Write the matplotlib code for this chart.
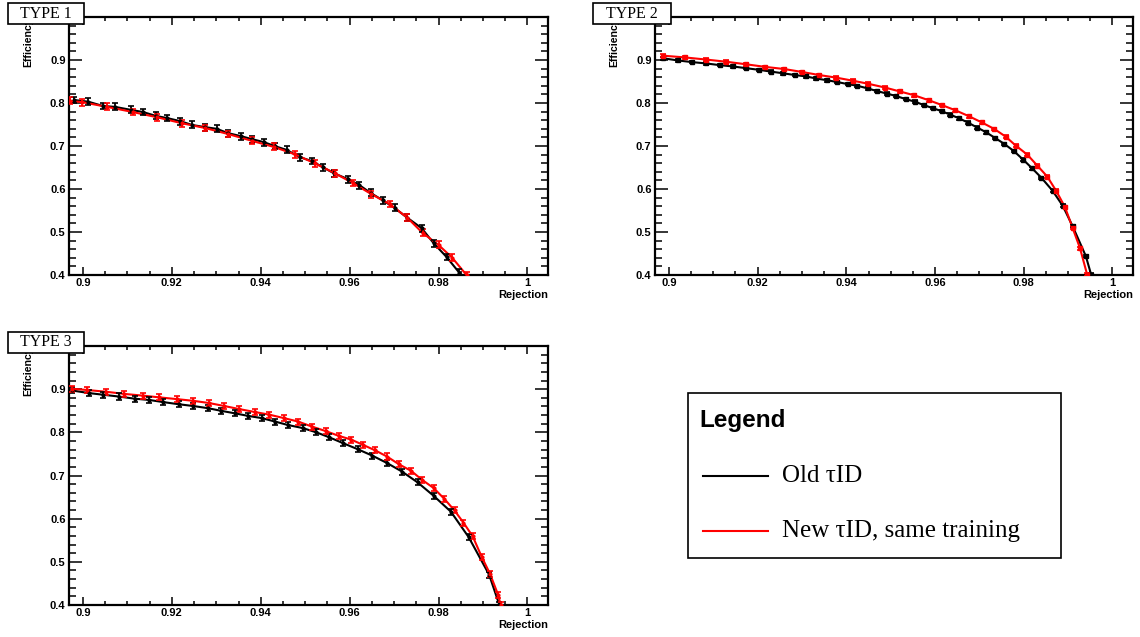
import matplotlib
matplotlib.use("Agg")
import matplotlib.pyplot as plt
from matplotlib.patches import Rectangle
from matplotlib.lines import Line2D
from matplotlib.ticker import MultipleLocator, FixedLocator

# ---------------- data ----------------
panel_titles = ["TYPE 1", "TYPE 2", "TYPE 3"]
legend_labels = ["Old \u03c4ID", "New \u03c4ID, same training"]
x_label = "Rejection"
y_label = "Efficiency"
x_ticks = [0.9, 0.92, 0.94, 0.96, 0.98, 1.0]
x_tick_labels = ["0.9", "0.92", "0.94", "0.96", "0.98", "1"]
y_ticks = [0.4, 0.5, 0.6, 0.7, 0.8, 0.9]
y_tick_labels = ["0.4", "0.5", "0.6", "0.7", "0.8", "0.9"]

t1_old_x = [0.8980, 0.9012, 0.9045, 0.9072, 0.9108, 0.9135, 0.9164, 0.9189, 0.9218,
            0.9245, 0.9274, 0.9301, 0.9326, 0.9355, 0.9380, 0.9407, 0.9431, 0.9458,
            0.9488, 0.9515, 0.9539, 0.9564, 0.9596, 0.9622, 0.9647, 0.9674, 0.9701,
            0.9730, 0.9762, 0.9789, 0.9818, 0.9847, 0.9855]
t1_old_y = [0.807, 0.803, 0.793, 0.791, 0.784, 0.779, 0.770, 0.765, 0.758,
            0.749, 0.744, 0.740, 0.730, 0.723, 0.716, 0.709, 0.700, 0.691,
            0.674, 0.665, 0.651, 0.637, 0.623, 0.609, 0.591, 0.574, 0.556,
            0.533, 0.509, 0.474, 0.442, 0.405, 0.390]
t1_new_x = [0.8970, 0.8998, 0.9054, 0.9112, 0.9166, 0.9222, 0.9274, 0.9326, 0.9380,
            0.9429, 0.9476, 0.9521, 0.9566, 0.9607, 0.9649, 0.9690, 0.9730, 0.9764,
            0.9800, 0.9831, 0.9863]
t1_new_y = [0.805, 0.802, 0.791, 0.779, 0.767, 0.753, 0.742, 0.728, 0.712,
            0.698, 0.681, 0.660, 0.637, 0.614, 0.588, 0.565, 0.533, 0.498,
            0.470, 0.440, 0.400]
t1_err = 0.008

t2_old_x = [0.8987, 0.9020, 0.9053, 0.9084, 0.9115, 0.9144, 0.9174, 0.9204, 0.9230,
            0.9258, 0.9284, 0.9308, 0.9332, 0.9356, 0.9378, 0.9403, 0.9425, 0.9448,
            0.9468, 0.9491, 0.9513, 0.9534, 0.9555, 0.9575, 0.9595, 0.9615, 0.9634,
            0.9655, 0.9675, 0.9695, 0.9715, 0.9735, 0.9756, 0.9778, 0.9799, 0.9819,
            0.9840, 0.9865, 0.9888, 0.9910, 0.9940, 0.9952]
t2_old_y = [0.904, 0.899, 0.895, 0.892, 0.888, 0.885, 0.881, 0.877, 0.873,
            0.869, 0.865, 0.862, 0.857, 0.853, 0.849, 0.844, 0.840, 0.834,
            0.828, 0.822, 0.816, 0.809, 0.803, 0.795, 0.788, 0.781, 0.773,
            0.764, 0.754, 0.743, 0.732, 0.719, 0.705, 0.688, 0.668, 0.648,
            0.626, 0.596, 0.561, 0.514, 0.444, 0.401]
t2_new_x = [0.8987, 0.9036, 0.9084, 0.9129, 0.9174, 0.9217, 0.9260, 0.9301, 0.9339,
            0.9377, 0.9414, 0.9448, 0.9487, 0.9520, 0.9553, 0.9587, 0.9616, 0.9646,
            0.9677, 0.9705, 0.9733, 0.9759, 0.9782, 0.9808, 0.9831, 0.9853, 0.9873,
            0.9893, 0.9910, 0.9927, 0.9943]
t2_new_y = [0.910, 0.906, 0.901, 0.896, 0.890, 0.884, 0.879, 0.872, 0.865,
            0.859, 0.852, 0.845, 0.836, 0.827, 0.818, 0.806, 0.795, 0.783,
            0.769, 0.755, 0.740, 0.722, 0.701, 0.680, 0.654, 0.629, 0.596,
            0.558, 0.510, 0.462, 0.401]
t2_err = 0.003

t3_old_x = [0.8975, 0.9013, 0.9046, 0.9080, 0.9116, 0.9149, 0.9181, 0.9216, 0.9248,
            0.9281, 0.9310, 0.9342, 0.9372, 0.9402, 0.9432, 0.9461, 0.9494, 0.9525,
            0.9553, 0.9585, 0.9618, 0.9651, 0.9684, 0.9718, 0.9753, 0.9789, 0.9828,
            0.9868, 0.9914, 0.9937]
t3_old_y = [0.897, 0.891, 0.887, 0.883, 0.878, 0.875, 0.870, 0.865, 0.861,
            0.856, 0.850, 0.844, 0.838, 0.833, 0.825, 0.817, 0.810, 0.800,
            0.789, 0.775, 0.761, 0.746, 0.729, 0.709, 0.684, 0.653, 0.616,
            0.557, 0.470, 0.400]
t3_new_x = [0.8975, 0.9010, 0.9052, 0.9093, 0.9135, 0.9172, 0.9211, 0.9248, 0.9283,
            0.9318, 0.9351, 0.9387, 0.9419, 0.9452, 0.9484, 0.9516, 0.9546, 0.9575,
            0.9604, 0.9630, 0.9658, 0.9684, 0.9711, 0.9738, 0.9763, 0.9789, 0.9813,
            0.9836, 0.9856, 0.9877, 0.9897, 0.9916, 0.9934, 0.9940]
t3_new_y = [0.901, 0.898, 0.894, 0.889, 0.885, 0.881, 0.877, 0.873, 0.868,
            0.861, 0.854, 0.847, 0.841, 0.833, 0.825, 0.813, 0.803, 0.792,
            0.783, 0.771, 0.758, 0.744, 0.726, 0.711, 0.690, 0.671, 0.646,
            0.619, 0.591, 0.559, 0.512, 0.472, 0.424, 0.400]
t3_err = 0.007

# ---------------- layout ----------------
W, H = 1140, 637
fig = plt.figure(figsize=(W / 100, H / 100), dpi=100)
fig.patch.set_facecolor("white")


def px_axes(left, top, right, bottom):
    return fig.add_axes([left / W, 1 - bottom / H, (right - left) / W, (bottom - top) / H])


SANS = ["Liberation Sans", "DejaVu Sans"]
SERIF = ["Liberation Serif", "DejaVu Serif"]

axes_px = [(69, 17, 548, 275), (655, 17, 1133, 275), (69, 346, 548, 605)]
box_px = [(8, 3, 84, 24), (593, 3, 671, 24), (8, 332, 84, 353)]

series = [
    (t1_old_x, t1_old_y, t1_new_x, t1_new_y, t1_err, "o", 2.0),
    (t2_old_x, t2_old_y, t2_new_x, t2_new_y, t2_err, "s", 3.2),
    (t3_old_x, t3_old_y, t3_new_x, t3_new_y, t3_err, "o", 2.0),
]

for i, (ax_px, b_px, s) in enumerate(zip(axes_px, box_px, series)):
    ax = px_axes(*ax_px)
    ox, oy, nx, ny, err, mk, ms = s
    for xs, ys, col in ((ox, oy, "black"), (nx, ny, "#ff0000")):
        ax.plot(xs, ys, color=col, lw=1.5, zorder=3, clip_on=True)
        ax.errorbar(xs, ys, yerr=err, fmt=mk, ms=ms, color=col, ecolor=col,
                    elinewidth=1.3, capsize=2.2, capthick=1.2, zorder=4)
    ax.set_xlim(0.89685, 1.00464)
    ax.set_ylim(0.4, 1.0)
    ax.xaxis.set_major_locator(FixedLocator(x_ticks))
    ax.set_xticklabels(x_tick_labels)
    ax.yaxis.set_major_locator(FixedLocator(y_ticks + [1.0]))
    ax.set_yticklabels(y_tick_labels + [""])
    ax.xaxis.set_minor_locator(MultipleLocator(0.005))
    ax.yaxis.set_minor_locator(MultipleLocator(0.02))
    ax.tick_params(axis="both", which="both", direction="in", top=True, right=True,
                   width=1.1, colors="black")
    ax.tick_params(axis="x", which="major", length=5.6, pad=2.5)
    ax.tick_params(axis="x", which="minor", length=3.0)
    ax.tick_params(axis="y", which="major", length=9.5, pad=2.5)
    ax.tick_params(axis="y", which="minor", length=5.0)
    for lab in ax.get_xticklabels() + ax.get_yticklabels():
        lab.set_family(SANS)
        lab.set_fontweight("bold")
        lab.set_fontsize(8)
    for sp in ax.spines.values():
        sp.set_linewidth(1.6)

    # x-axis title (right aligned under the axis)
    l, t, r, b = ax_px
    fig.text(r / W, 1 - (b + 20) / H, x_label, ha="right", va="center",
             family=SANS, fontweight="bold", fontsize=8)
    # y-axis title (right aligned to top, partly hidden by the title box)
    fig.text((l - 41) / W, 1 - t / H, y_label, rotation=90, ha="center", va="top",
             family=SANS, fontweight="bold", fontsize=7.6, zorder=3)
    # title box
    bl, bt, br, bb = b_px
    rect = Rectangle((bl / W, 1 - bb / H), (br - bl) / W, (bb - bt) / H,
                     transform=fig.transFigure, facecolor="white", edgecolor="black",
                     lw=1.2, zorder=5)
    fig.patches.append(rect)
    fig.text((bl + br) / 2 / W, 1 - (bt + bb) / 2 / H, panel_titles[i], ha="center",
             va="center", family=SERIF, fontsize=11.5, zorder=6)

# ---------------- legend box ----------------
lg_l, lg_t, lg_r, lg_b = 688, 393, 1061, 558
fig.patches.append(Rectangle((lg_l / W, 1 - lg_b / H), (lg_r - lg_l) / W, (lg_b - lg_t) / H,
                             transform=fig.transFigure, facecolor="white",
                             edgecolor="black", lw=1.2, zorder=5))
fig.text(699 / W, 1 - 420 / H, "Legend", ha="left", va="center", family=SANS,
         fontweight="bold", fontsize=17.5, zorder=6)
for lab, col, yy in zip(legend_labels, ["black", "#ff0000"], [476, 531]):
    fig.add_artist(Line2D([703 / W, 768 / W], [1 - yy / H, 1 - yy / H],
                          transform=fig.transFigure, color=col, lw=1.5, zorder=6))
    fig.text(782 / W, 1 - yy / H, lab, ha="left", va="center", family=SERIF,
             fontsize=18, zorder=6)

fig.savefig("out.png", dpi=100, facecolor="white")
